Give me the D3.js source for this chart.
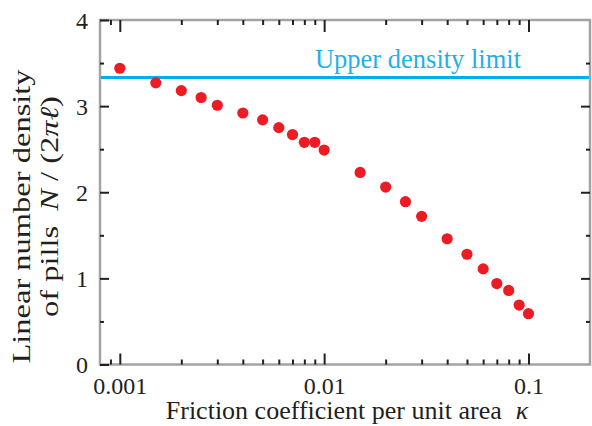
<!DOCTYPE html>
<html>
<head>
<meta charset="utf-8">
<script src="https://cdn.jsdelivr.net/npm/d3@7/dist/d3.min.js"></script>
<style>
  html, body { margin: 0; padding: 0; background: #fff; }
  svg { display: block; }
  text { font-family: "Liberation Serif", "Times New Roman", serif; fill: #231f20; }
</style>
</head>
<body>
<svg id="chart" width="592" height="426"></svg>
<script>
// ---- data ----
const kappa   = [0.001, 0.0015, 0.002, 0.0025, 0.003, 0.004, 0.005, 0.006, 0.007, 0.008, 0.009, 0.01,
                 0.015, 0.02, 0.025, 0.03, 0.04, 0.05, 0.06, 0.07, 0.08, 0.09, 0.1];
const density = [3.44, 3.27, 3.18, 3.10, 3.01, 2.92, 2.84, 2.75, 2.67, 2.58, 2.58, 2.49,
                 2.23, 2.06, 1.89, 1.72, 1.46, 1.28, 1.11, 0.94, 0.86, 0.69, 0.59];
const upperLimit = [10 / 3];
const upperLabel = ["Upper density limit"];
const xMajorTicks = [0.001, 0.01, 0.1];
const xTickLabels = ["0.001", "0.01", "0.1"];
const yMajorTicks = [0, 1, 2, 3, 4];
const yTickLabels = ["0", "1", "2", "3", "4"];
const yMinorTicks = [0.5, 1.5, 2.5, 3.5];
const xDomain = [0.0008, 0.2];
const yDomain = [0, 4];

// ---- layout ----
const L = 100, R = 590, T = 20, B = 364.5;
const svg = d3.select("#chart");
const x = d3.scaleLog().domain(xDomain).range([L, R]);
const y = d3.scaleLinear().domain(yDomain).range([B, T]);
const xMinorTicks = x.ticks().filter(d => d > xDomain[0] * 1.0001 && d < xDomain[1] * 0.9999 && !xMajorTicks.some(m => Math.abs(m - d) < m * 1e-6));

const tickColor = "#231f20";
function styleAxis(g, fontSize) {
  g.select(".domain").remove();
  g.selectAll(".tick line").attr("stroke", tickColor).attr("stroke-width", 2);
  g.selectAll(".tick text").attr("font-size", fontSize).attr("fill", "#231f20")
    .style("font-family", "'Liberation Serif', 'Times New Roman', serif");
}

// frame
svg.append("rect")
  .attr("x", L).attr("y", T).attr("width", R - L).attr("height", B - T)
  .attr("fill", "none").attr("stroke", "#a3a3a3").attr("stroke-width", 2.5);

// bottom axis (major with labels)
svg.append("g").attr("transform", `translate(0,${B})`)
  .call(d3.axisBottom(x).tickValues(xMajorTicks).tickFormat((d, i) => xTickLabels[i])
    .tickSizeInner(-11).tickSizeOuter(0).tickPadding(12))
  .call(g => styleAxis(g, 24));
svg.append("g").attr("transform", `translate(0,${B})`)
  .call(d3.axisBottom(x).tickValues(xMinorTicks).tickFormat("").tickSizeInner(-5).tickSizeOuter(0))
  .call(g => styleAxis(g, 24));
// top axis
svg.append("g").attr("transform", `translate(0,${T})`)
  .call(d3.axisTop(x).tickValues(xMajorTicks).tickFormat("").tickSizeInner(-12).tickSizeOuter(0))
  .call(g => styleAxis(g, 24));
svg.append("g").attr("transform", `translate(0,${T})`)
  .call(d3.axisTop(x).tickValues(xMinorTicks).tickFormat("").tickSizeInner(-5).tickSizeOuter(0))
  .call(g => styleAxis(g, 24));
// left axis
svg.append("g").attr("transform", `translate(${L},0)`)
  .call(d3.axisLeft(y).tickValues(yMajorTicks).tickFormat((d, i) => yTickLabels[i])
    .tickSizeInner(-9).tickSizeOuter(0).tickPadding(12))
  .call(g => styleAxis(g, 24))
  .call(g => g.selectAll(".tick text").attr("dy", "0.34em"));
svg.append("g").attr("transform", `translate(${L},0)`)
  .call(d3.axisLeft(y).tickValues(yMinorTicks).tickFormat("").tickSizeInner(-4).tickSizeOuter(0))
  .call(g => styleAxis(g, 24));
// right axis
svg.append("g").attr("transform", `translate(${R},0)`)
  .call(d3.axisRight(y).tickValues(yMajorTicks.filter(d => d > 0 && d < 4)).tickFormat("").tickSizeInner(-9).tickSizeOuter(0))
  .call(g => styleAxis(g, 24));
svg.append("g").attr("transform", `translate(${R},0)`)
  .call(d3.axisRight(y).tickValues(yMinorTicks).tickFormat("").tickSizeInner(-4).tickSizeOuter(0))
  .call(g => styleAxis(g, 24));

// upper density limit
svg.selectAll("line.limit").data(upperLimit).enter().append("line")
  .attr("class", "limit")
  .attr("x1", L + 1).attr("x2", R - 1)
  .attr("y1", d => y(d)).attr("y2", d => y(d))
  .attr("stroke", "#00aeef").attr("stroke-width", 3);
svg.selectAll("text.limit").data(upperLabel).enter().append("text")
  .attr("class", "limit")
  .attr("x", 418).attr("y", 68)
  .attr("text-anchor", "middle")
  .attr("font-size", 26.5)
  .style("fill", "#1eb1e9")
  .text(d => d);

// points
svg.selectAll("circle.pt").data(kappa).enter().append("circle")
  .attr("class", "pt")
  .attr("cx", d => x(d))
  .attr("cy", (d, i) => y(density[i]))
  .attr("r", 5.6)
  .attr("fill", "#ed1c24");

// x title
const xt = svg.append("text")
  .attr("x", 347).attr("y", 419)
  .attr("text-anchor", "middle")
  .attr("font-size", 26)
  .attr("xml:space", "preserve");
xt.append("tspan").text("Friction coefficient per unit area");
xt.append("tspan").attr("dx", 14).style("font-style", "italic").text("κ");

// y title (two lines)
const yt1 = svg.append("g").attr("transform", "translate(0,216.5) rotate(-90) scale(1.25,1)");
yt1.append("text").attr("x", 0).attr("y", 30).attr("text-anchor", "middle")
  .attr("font-size", 26).text("Linear number density");
const yt2 = svg.append("g").attr("transform", "translate(0,206.5) rotate(-90) scale(1.25,1)");
const t2 = yt2.append("text").attr("x", 0).attr("y", 58).attr("text-anchor", "middle")
  .attr("font-size", 26);
t2.append("tspan").text("of pills");
t2.append("tspan").attr("dx", 12).style("font-style", "italic").text("N");
t2.append("tspan").text(" / (2");
t2.append("tspan").style("font-style", "italic").text("π");
t2.append("tspan").style("font-style", "italic").text("ℓ");
t2.append("tspan").text(")");
</script>
</body>
</html>
